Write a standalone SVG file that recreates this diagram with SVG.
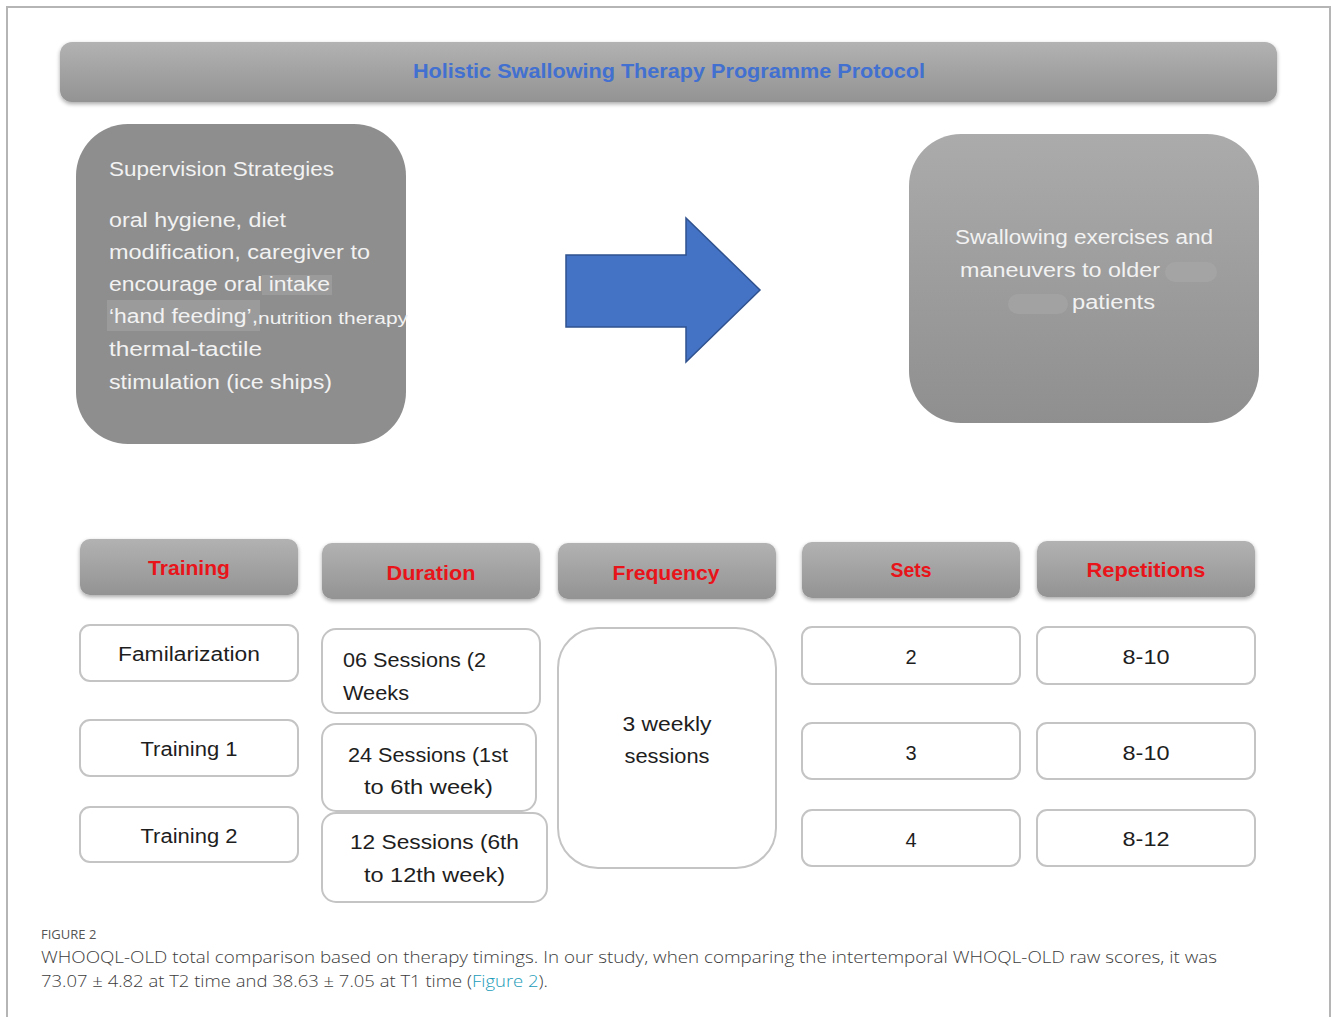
<svg xmlns="http://www.w3.org/2000/svg" width="1331" height="1017" viewBox="0 0 1331 1017">
  <defs>
    <linearGradient id="barGrad" x1="0" y1="0" x2="0" y2="1">
      <stop offset="0" stop-color="#b2b2b2"/>
      <stop offset="1" stop-color="#939393"/>
    </linearGradient>
    <linearGradient id="panelGrad" x1="0" y1="0" x2="0" y2="1">
      <stop offset="0" stop-color="#ababab"/>
      <stop offset="1" stop-color="#8f8f8f"/>
    </linearGradient>
    <filter id="shadow" x="-5%" y="-20%" width="110%" height="150%">
      <feGaussianBlur in="SourceAlpha" stdDeviation="2"/>
      <feOffset dx="0" dy="2" result="b"/>
      <feComponentTransfer><feFuncA type="linear" slope="0.35"/></feComponentTransfer>
      <feMerge><feMergeNode/><feMergeNode in="SourceGraphic"/></feMerge>
    </filter>
  </defs>
  <style>
    .frame { fill: #ffffff; stroke: #b5b5b5; stroke-width: 2; }
    .bar { fill: url(#barGrad); filter: url(#shadow); }
    .panel { fill: url(#panelGrad); }
    .cell { fill: #ffffff; stroke: #c4c4c4; stroke-width: 2; }
    .title { font-family: "Liberation Sans", Arial, sans-serif; font-weight: bold; font-size: 21px; fill: #4270d0; }
    .head { font-family: "Liberation Sans", Arial, sans-serif; font-weight: bold; font-size: 21px; fill: #e8141a; text-anchor: middle; }
    .light { font-family: "Liberation Sans", Arial, sans-serif; font-size: 20px; fill: #f2f2f2; }
    .small { font-size: 16px; }
    .body { font-family: "Liberation Sans", Arial, sans-serif; font-size: 20px; fill: #1e1e1e; }
    .mid { text-anchor: middle; }
    .capHead { font-family: "Open Sans", "Liberation Sans", sans-serif; font-size: 13px; fill: #555555; }
    .cap { font-family: "Open Sans", "Liberation Sans", sans-serif; font-weight: 300; font-size: 17px; fill: #3c3c3c; }
    .link { fill: #1a9bb8; }
  </style>

  <!-- page frame -->
  <rect class="frame" x="7" y="7" width="1323" height="1020"/>

  <!-- title banner -->
  <g id="title-bar">
    <rect class="bar" x="60" y="42" width="1217" height="60" rx="12"/>
    <text class="title" x="413" y="78" textLength="512" lengthAdjust="spacingAndGlyphs">Holistic Swallowing Therapy Programme Protocol</text>
  </g>

  <!-- supervision strategies panel -->
  <g id="supervision">
    <rect fill="#8e8e8e" x="76" y="124" width="330" height="320" rx="52"/>
    <rect fill="#9b9b9b" x="262" y="275" width="70" height="20"/>
    <rect fill="#9b9b9b" x="107" y="300" width="153" height="31"/>
    <text class="light" x="109" y="176" textLength="225" lengthAdjust="spacingAndGlyphs">Supervision Strategies</text>
    <text class="light" x="109" y="227" textLength="177" lengthAdjust="spacingAndGlyphs">oral hygiene, diet</text>
    <text class="light" x="109" y="259" textLength="261" lengthAdjust="spacingAndGlyphs">modification, caregiver to</text>
    <text class="light" x="109" y="291" textLength="221" lengthAdjust="spacingAndGlyphs">encourage oral intake</text>
    <text class="light" x="109" y="323" textLength="149" lengthAdjust="spacingAndGlyphs">‘hand feeding’,</text>
    <text class="light small" x="258" y="324" textLength="150" lengthAdjust="spacingAndGlyphs">nutrition therapy</text>
    <text class="light" x="109" y="356" textLength="153" lengthAdjust="spacingAndGlyphs">thermal-tactile</text>
    <text class="light" x="109" y="389" textLength="223" lengthAdjust="spacingAndGlyphs">stimulation (ice ships)</text>
  </g>

  <!-- swallowing exercises panel -->
  <g id="exercises">
    <rect class="panel" x="909" y="134" width="350" height="289" rx="52"/>
    <rect fill="#a4a4a4" x="1165" y="262" width="52" height="20" rx="10"/>
    <rect fill="#a2a2a2" x="1008" y="294" width="60" height="20" rx="10"/>
    <text class="light" x="955" y="244" textLength="258" lengthAdjust="spacingAndGlyphs">Swallowing exercises and</text>
    <text class="light" x="960" y="277" textLength="200" lengthAdjust="spacingAndGlyphs">maneuvers to older</text>
    <text class="light" x="1072" y="309" textLength="83" lengthAdjust="spacingAndGlyphs">patients</text>
  </g>

  <!-- block arrow between panels -->
  <g id="connectors">
    <polygon points="566,255 686,255 686,218 760,290 686,362 686,327 566,327" fill="#4472c4" stroke="#2f528f" stroke-width="1.5"/>
  </g>

  <!-- column headers -->
  <g id="hdr-training">
    <rect class="bar" x="80" y="539" width="218" height="56" rx="10"/>
    <text class="head" x="189" y="575" textLength="82" lengthAdjust="spacingAndGlyphs">Training</text>
  </g>
  <g id="hdr-duration">
    <rect class="bar" x="322" y="543" width="218" height="56" rx="10"/>
    <text class="head" x="431" y="580" textLength="89" lengthAdjust="spacingAndGlyphs">Duration</text>
  </g>
  <g id="hdr-frequency">
    <rect class="bar" x="558" y="543" width="218" height="56" rx="10"/>
    <text class="head" x="666" y="580" textLength="107" lengthAdjust="spacingAndGlyphs">Frequency</text>
  </g>
  <g id="hdr-sets">
    <rect class="bar" x="802" y="542" width="218" height="56" rx="10"/>
    <text class="head" x="911" y="577" textLength="41" lengthAdjust="spacingAndGlyphs">Sets</text>
  </g>
  <g id="hdr-repetitions">
    <rect class="bar" x="1037" y="541" width="218" height="56" rx="10"/>
    <text class="head" x="1146" y="577" textLength="119" lengthAdjust="spacingAndGlyphs">Repetitions</text>
  </g>

  <!-- training column -->
  <g id="familiarization">
    <rect class="cell" x="80" y="625" width="218" height="56" rx="10"/>
    <text class="body mid" x="189" y="661" textLength="142" lengthAdjust="spacingAndGlyphs">Familarization</text>
  </g>
  <g id="training-1">
    <rect class="cell" x="80" y="720" width="218" height="56" rx="10"/>
    <text class="body mid" x="189" y="756" textLength="97" lengthAdjust="spacingAndGlyphs">Training 1</text>
  </g>
  <g id="training-2">
    <rect class="cell" x="80" y="807" width="218" height="55" rx="10"/>
    <text class="body mid" x="189" y="843" textLength="97" lengthAdjust="spacingAndGlyphs">Training 2</text>
  </g>

  <!-- duration column -->
  <g id="duration-1">
    <rect class="cell" x="322" y="629" width="218" height="84" rx="14"/>
    <text class="body" x="343" y="667" textLength="143" lengthAdjust="spacingAndGlyphs">06 Sessions (2</text>
    <text class="body" x="343" y="700" textLength="66" lengthAdjust="spacingAndGlyphs">Weeks</text>
  </g>
  <g id="duration-2">
    <rect class="cell" x="322" y="724" width="214" height="87" rx="14"/>
    <text class="body" x="348" y="762" textLength="160" lengthAdjust="spacingAndGlyphs">24 Sessions (1st</text>
    <text class="body" x="364" y="794" textLength="129" lengthAdjust="spacingAndGlyphs">to 6th week)</text>
  </g>
  <g id="duration-3">
    <rect class="cell" x="322" y="813" width="225" height="89" rx="14"/>
    <text class="body" x="350" y="849" textLength="169" lengthAdjust="spacingAndGlyphs">12  Sessions (6th</text>
    <text class="body" x="364" y="882" textLength="141" lengthAdjust="spacingAndGlyphs">to 12th week)</text>
  </g>

  <!-- frequency column -->
  <g id="frequency">
    <rect class="cell" x="558" y="628" width="218" height="240" rx="40"/>
    <text class="body mid" x="667" y="731" textLength="89" lengthAdjust="spacingAndGlyphs">3 weekly</text>
    <text class="body mid" x="667" y="763" textLength="85" lengthAdjust="spacingAndGlyphs">sessions</text>
  </g>

  <!-- sets column -->
  <g id="sets-1">
    <rect class="cell" x="802" y="627" width="218" height="57" rx="10"/>
    <text class="body mid" x="911" y="664">2</text>
  </g>
  <g id="sets-2">
    <rect class="cell" x="802" y="723" width="218" height="56" rx="10"/>
    <text class="body mid" x="911" y="760">3</text>
  </g>
  <g id="sets-3">
    <rect class="cell" x="802" y="810" width="218" height="56" rx="10"/>
    <text class="body mid" x="911" y="847">4</text>
  </g>

  <!-- repetitions column -->
  <g id="reps-1">
    <rect class="cell" x="1037" y="627" width="218" height="57" rx="10"/>
    <text class="body mid" x="1146" y="664" textLength="47" lengthAdjust="spacingAndGlyphs">8-10</text>
  </g>
  <g id="reps-2">
    <rect class="cell" x="1037" y="723" width="218" height="56" rx="10"/>
    <text class="body mid" x="1146" y="760" textLength="47" lengthAdjust="spacingAndGlyphs">8-10</text>
  </g>
  <g id="reps-3">
    <rect class="cell" x="1037" y="810" width="218" height="56" rx="10"/>
    <text class="body mid" x="1146" y="846" textLength="47" lengthAdjust="spacingAndGlyphs">8-12</text>
  </g>

  <!-- caption -->
  <g id="caption">
    <text class="capHead" x="41" y="939">FIGURE 2</text>
    <text class="cap" x="41" y="963" textLength="1176" lengthAdjust="spacingAndGlyphs">WHOOQL-OLD total comparison based on therapy timings. In our study, when comparing the intertemporal WHOQL-OLD raw scores, it was</text>
    <text class="cap" x="41" y="987" textLength="507" lengthAdjust="spacingAndGlyphs">73.07 ± 4.82 at T2 time and 38.63 ± 7.05 at T1 time (<tspan class="link">Figure 2</tspan>).</text>
  </g>
</svg>
